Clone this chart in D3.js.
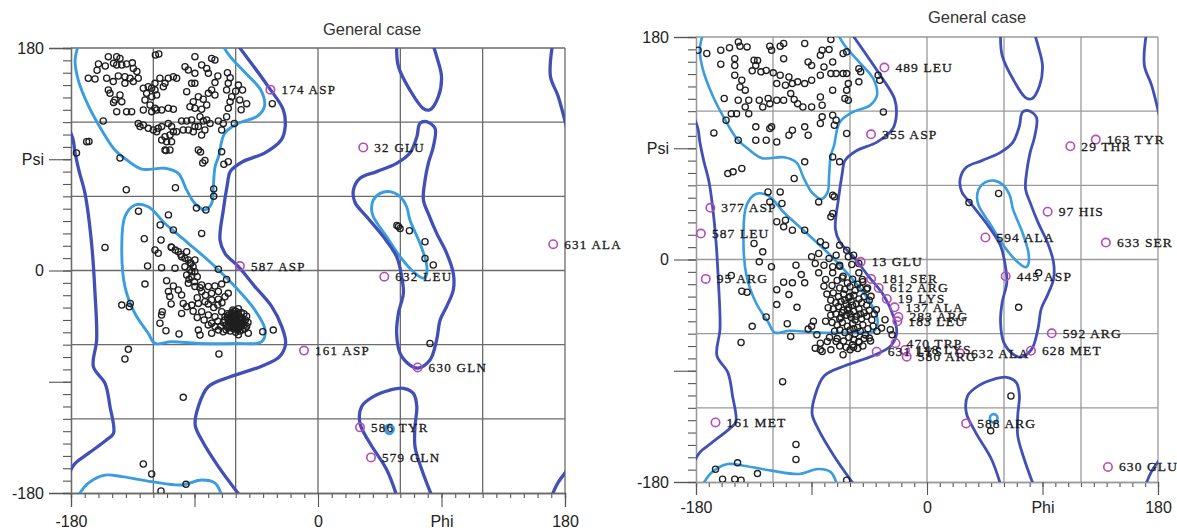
<!DOCTYPE html>
<html>
<head>
<meta charset="utf-8">
<script src="https://cdn.jsdelivr.net/npm/d3@7"></script>
<style>
  body { margin: 0; background: #fff; }
  svg { display: block; }
</style>
</head>
<body>
<svg id="chart" width="1177" height="531"></svg>
<script>
// ---- contour lines (phi, psi), shared by both plots ----
var favBeta = [[-174.7,182],[-177,170],[-174.7,154],[-167,132.5],[-157.7,113.7],[-148,97.5],[-140,90],[-128.5,82],[-111.5,82.7],[-101.8,78.6],[-95.7,65],[-89.7,54.3],[-82.4,49],[-77.5,54.3],[-76.3,67.8],[-75,84],[-72.5,92],[-68,111],[-58.3,119],[-44.4,124.7],[-39,132.8],[-41.7,146],[-52.8,159.7],[-64,173],[-69.4,182]];
var favBetaBottom = [[-174.7,-182],[-167.4,-172],[-155.2,-165.5],[-143,-166.8],[-121.2,-170.8],[-99.4,-173.5],[-84.8,-169.5],[-75,-172],[-70.2,-182]];
var favAlpha = [[-133.4,53],[-140.7,43.6],[-143,19.3],[-140.7,-13],[-133.4,-34.8],[-123.7,-50.8],[-118.8,-59],[-106.7,-57.6],[-87.2,-59],[-60.5,-59],[-41,-57.6],[-38.6,-48],[-46,-32],[-60.5,-13],[-77.5,5.7],[-94.5,22],[-111.5,38],[-123.7,51.6]];
var favLeftHanded = [[39,50],[40.3,57],[45.2,62.4],[52.5,63.8],[59.8,59.7],[64.6,51.6],[67,40.8],[74.3,22],[79,5.8],[79,-3.6],[76.8,-6.3],[69.5,-1],[59.8,11.2],[50,27.4],[40.3,43.5]];
var favGamma = [[49,-128],[50.5,-125.5],[53.5,-125.5],[55,-128.5],[53.5,-131.5],[50.5,-131.5]];

var allowMain = [[-58.3,182],[-36.4,149],[-25.3,130],[-23.9,116.6],[-26.7,105.8],[-39,95],[-55,88],[-64,80],[-66,70],[-69,49],[-71.4,24.7],[-67.8,13.9],[-58,3.1],[-46,-13],[-33.8,-29],[-26.4,-45.4],[-23.6,-59],[-28,-69.7],[-42,-77.8],[-64,-86],[-80,-94],[-87.2,-110],[-89.5,-125],[-84.8,-137],[-72.6,-158.7],[-57,-182]];
var allowLeft = [[-182,116],[-178.5,106],[-177,95],[-174,80],[-169.8,62.4],[-165,22],[-162.5,-18.5],[-161.3,-56],[-163.7,-77.8],[-155.2,-91.3],[-151.6,-110],[-149,-131.7],[-154,-137],[-167.4,-148],[-177,-156],[-182,-165]];
var allowTopRight = [[170.8,182],[169.4,157],[175,141],[182,112]];
var allowBottomRight = [[170.5,-182],[174.7,-172],[182,-161]];
var allowLeftHanded = [[79,120.4],[85.3,115],[84,100],[80.4,86.7],[78,73],[76.8,57],[80.4,46],[86.5,30],[93.8,13.9],[98.6,-2.3],[98.6,-15.8],[93.8,-29],[89,-40],[86.5,-56],[81.6,-72.5],[73,-79],[67,-76.5],[59.8,-67],[57.3,-50.8],[58.6,-34.6],[62.2,-18.5],[61,-5],[57.3,11.2],[47.6,27.4],[35.5,43.5],[27,55],[25.8,65],[30.6,74.6],[42.8,80],[57.3,86.7],[67,95],[72,108],[74.3,119]];
var allowGammaTop = [[57.3,182],[58.6,165],[67,146],[76.8,131],[81.6,130],[87.7,140.6],[90,156.8],[86.5,173],[84,182]];
var allowGammaBottom = [[57.3,-182],[50,-161],[38,-140],[30.6,-123.7],[31.8,-110],[40.3,-102],[52.5,-96.7],[62.2,-95.3],[69.5,-99.4],[72,-110],[70.7,-126],[70.7,-142.5],[75.6,-161],[82.8,-182]];

// ---- left plot residues (phi, psi) ----
var leftBeta = [
  [-152.8,173],[-146.7,173],[-144.3,171.6],[-160,167],[-155,165.4],[-161,162],[-149,167.6],[-146.7,166.2],[-143,166.2],[-139.5,167],[-135.3,168],[-134.6,163.5],[-132,161],
  [-167.4,155.5],[-162.5,154.9],[-154,155.5],[-145.5,157.3],[-140.7,156.8],[-137,155.5],[-131,155.5],[-134.6,152.8],[-140.7,151.4],[-149.2,152.8],[-152.8,146],[-151.6,143.3],[-144.3,142],[-148,137.9],[-143,136.6],[-139.5,128.5],[-135.8,128.5],[-146.7,128.5],[-149,136],
  [-156.5,120.9],[-168.6,104.2],[-176,95],[-144.3,91],
  [-127.3,147.4],[-123.7,148.7],[-121.2,147.4],[-118.8,146],[-124.9,143.3],[-121.2,140.6],[-117.6,142],[-126.1,137.9],[-122.4,133.9],[-118.8,131.2],[-127.3,129.8],[-121.2,128.5],[-117.6,129.8],[-113.9,129.8],[-109.1,131.2],[-105.4,130.4],[-115.2,155.5],[-109.1,155.5],[-105.4,156.8],[-103,155.5],[-111.5,151.4],[-112.7,148.7],[-118.8,151.4],[-118.5,174.3],[-116,175.2],
  [-131,119],[-129.7,116.4],[-127.3,117.7],[-123.7,115],[-120,113.7],[-117.6,112.3],[-116.4,115],[-113.9,116.4],[-109.1,119],[-106.7,116.4],[-105.4,112.3],[-107.9,109.6],[-111.5,108.3],[-113.9,105.6],[-110.3,104.2],[-106.7,104.2],[-111.5,97.5],[-107.9,97.5],[-103,112.3],
  [-99.4,120.9],[-95.7,120.9],[-92.1,121.7],[-89.7,116.4],[-94.5,113.7],[-98.2,113.7],[-90.9,112.3],
  [-96.9,164.9],[-94.5,162.2],[-89.7,159.5],[-84.8,166.2],[-81.1,163.5],[-79.9,159.5],[-77.5,171.6],[-75.1,170.3],[-89.7,173],
  [-87.2,140.6],[-90.9,136.6],[-93.3,132.5],[-89.7,131.2],[-84.8,130.4],[-81.1,133.9],[-83.6,138.5],[-79.9,143.3],[-77.5,146],[-75.1,142],[-92.1,151.4],[-89.7,151.4],[-95.7,144.7],
  [-86,124.4],[-83.6,120.9],[-81.1,121.7],[-78.7,119],[-82.4,113.7],[-87.2,116.4],[-84.8,109.6],[-72.6,120.9],[-69,119],[-70.2,113.7],[-66.6,124.4],[-65.4,131.2],[-64.1,136.6],[-62.9,140.6],[-66.6,146],[-65.4,151.4],[-64,156],[-66,160],[-75.1,152],[-73,157.3],
  [-87.2,97.5],[-82.4,89],[-65.4,88],[-70.2,96],
  [-58,150],[-55,146],[-57,138],[-52,135],[-60,145],[-56,130],[-33.3,135],[-61,119],
  [-166.9,104.4],[-139.7,65.3],[-103.9,67],[-110.8,97],[-85.6,95.8],[-84,87],[-68.6,86],[-76,66],[-76,60],[-88.6,50.5],[-81.7,49],[-130.8,48]
];
var leftAlpha = [
  [-155.2,18.7],[-109,45],[-115,36.8],[-105.4,32.8],[-126.6,25.7],[-114.4,24.7],[-84.8,30],[-118.8,16.6],[-116.4,13.9],[-106.7,18.7],[-101.8,15.2],[-95.7,15.2],[-99.4,11.2],[-94.5,8.5],[-89.7,8.5],[-92.6,5.8],[-124.2,3.6],[-114,2.3],[-104.2,1.8],[-97,3.1],[-93.3,0.4],[-89.7,-1],[-95.7,-3.6],[-92.1,-5],[-72.6,1],
  [-126.1,-11],[-110.3,-8.2],[-105.4,-12.5],[-101.8,-15.8],[-94.5,-10.4],[-89.7,-13],[-84.8,-11.7],[-79.9,-13],[-75.1,-12.5],[-70.2,-11],[-66.6,-7.2],[-72.6,-17],[-77.5,-18.5],[-84.8,-17],[-109,-17],[-99.4,-19.8],[-108,-21],
  [-143,-28],[-136.8,-26.6],[-137.5,-29.3],[-107,-27],[-98.2,-26.6],[-95.7,-29.3],[-92,-28],[-87.2,-26.6],[-82.4,-25.2],[-77.5,-23.9],[-72.6,-23.3],[-67.8,-21.2],[-65.4,-18.5],
  [-113.5,-33.3],[-114,-36],[-99.4,-34.7],[-84.8,-33.3],[-79.9,-36],[-75.1,-37.4],[-70.2,-33.3],[-67.8,-37.4],[-77.5,-42.7],[-75.1,-45.4],[-115.2,-42.7],[-110.8,-48.7],[-101.3,-51.4],[-87.2,-48.2],[-86,-52.2],[-77.5,-50.8],[-72.6,-48.2],[-69,-49.5],[-50.8,-50.8],[-40.3,-49.5],[-32.6,-48.2],
  [-107,19],[-104,16.5],[-100,13],[-97,10],[-93,6],[-91,3],[-92,-1],[-94,-7],[-88,-5],[-90,-9],
  [-86,-14],[-82,-20],[-80,-27],[-76,-30],[-73,-28],[-70,-26],[-88,-22],[-91,-33],[-88,-38],[-83,-40],[-80,-44],[-73,-41],[-71,-45],
  [-60,-40],[-62,-38],[-58,-42],[-64,-42],[-56,-38],[-61,-44],[-59,-36],[-65,-39],[-55,-43],[-63,-46],[-57,-46],[-60,-33],[-66,-35],[-54,-35],[-53,-40],[-67,-44],[-62,-32],[-58,-31],[-64,-49],[-60,-50],[-55,-48],[-52,-45],[-68,-40],[-61,-41],[-59,-39],[-57,-43],[-63,-37],[-65,-45],[-56,-34],[-62,-47],[-58,-47],[-54,-41],[-66,-38],[-60,-45],[-63,-34],[-57,-38],[-61,-36],[-59,-48],[-64,-40],[-56,-45],[-52,-37],[-67,-48],[-69,-42],[-51,-42],[-58,-52],
  [-61,-39],[-59,-41],[-62,-43],[-58,-44],[-60,-37],[-63,-40],[-57,-40],[-55,-39],[-65,-42],[-61,-47],[-59,-43],[-56,-42],[-62,-35],[-64,-37],[-58,-35],[-60,-42],[-54,-44],[-66,-46],[-63,-43],[-57,-49],[-53,-47],[-65,-36],[-61,-33],[-59,-46],[-56,-40],
  [-138.2,-63.8],[-140.7,-71.6],[-72.2,-67.6],[-98.2,-102.6],[-127.3,-156.5],[-121.2,-164.6],[-114.4,-178.4],[-96.2,-173]
];
var leftOther = [[58.6,35.5],[59.8,34],[57.5,36.5],[66.6,32.2],[78,23.3],[78,9.8],[84,4.5],[81.6,-59]];
var leftOutliers = [
  [-34.7,146.3,"174 ASP"],[33,99.6,"32 GLU"],[171.4,21.3,"631 ALA"],[-56.9,3.6,"587 ASP"],[48.3,-5,"632 LEU"],
  [-10.2,-64.8,"161 ASP"],[72.6,-78.4,"630 GLN"],[30.6,-126.9,"586 TYR"],[38.6,-151.2,"579 GLN"]
];

// ---- right plot residues (phi, psi) ----
var rightBeta = [
  [-178.4,169.3],[-171.6,166.6],[-160.7,169.3],[-153.9,171.4],[-147,176],[-145.7,172.5],[-140.2,172],[-149.8,162.5],[-149.8,157],[-160.7,158],[-134.8,161.2],[-133.4,157],[-132,161],[-136.2,152.6],[-129.4,151.8],[-125.3,153],[-122.5,172.5],[-121.1,169.3],[-114.4,172.5],[-111.7,174.7],[-111.7,162.5],[-119.8,151],[-114.4,149],[-107.6,147.7],[-104.9,142.3],[-100.8,143.7],[-95.3,142.3],[-89.9,145],[-95.3,174.7],[-92.6,159.8],[-89.9,157],[-83.1,165.2],[-81.7,169.3],[-76.3,169.8],[-74.9,177.9],[-80.3,155.8],[-73.5,159.8],[-83.1,149],[-74.9,150.4],[-70.8,150.4],[-65.4,150.4],[-62.6,150.4],[-65.4,166.6],[-62.6,168],[-53.1,154.4],[-51.7,151.8],[-53.1,143.7],[-38.1,149],[-36.8,145],[-61.3,142.3],[-62.6,137],[-73.5,137],[-64,130.2],[-61.3,128.8],[-83.1,131.5],[-81.7,124.8],[-89.9,123.4],[-96.7,123.4],[-100.8,126.1],[-103.5,129.4],[-106.2,134.2],[-111.7,128.8],[-117.1,128.8],[-122.5,126.1],[-128,123.4],[-130.7,128.8],[-123.8,130.2],[-138.9,128.8],[-147.1,128.8],[-141.6,123.4],[-148.4,118],[-152.5,118],[-138.9,118],[-156.6,112.7],[-158,130.2],[-145.7,139.6],[-141.6,137],[-149.8,149],[-144.3,145],[-117.1,142.3],[-110.3,141],[-133.4,107.3],[-122.5,106],[-121.1,107.3],[-107.6,100.5],[-104.9,104.6],[-117.1,95.1],[-125.3,96.5],[-133.4,96.5],[-147.1,96.5],[-166.1,102.4],[-95.3,107.3],[-92.6,100.5],[-83.1,110],[-72.2,108.6],[-70.8,112.7],[-73.5,116.7],[-81.7,115.4],[-62.6,101.9],[-73.5,83],[-68.1,79],[-95.3,79],[-103.5,65.5],[-84.4,46.6],[-72.2,50.7],[-155.2,69.5],[-151.1,70.9],[-144.3,73.6],[-34,119.4]
];
var rightAlpha = [
  [-123.9,54.7],[-114.4,54.7],[-122.5,46.6],[-113,45.3],[-73.5,52],[-73.5,37.2],[-74.9,34.5],[-117.1,30.5],[-110.3,31.8],[-111.7,26.4],[-104.9,23.7],[-95.3,23.7],[-134.8,12.9],[-128,6.2],[-130.7,-1.9],[-121.2,-5.9],[-102.1,-4.6],[-89.9,2.2],[-83.1,14.3],[-79,11.6],[-84.4,4.9],[-76.3,0.8],[-70.8,3.5],[-68.1,11.6],[-62.6,7.5],[-61.3,2.2],[-57.2,3.5],[-53.1,-3.2],[-87.1,-3.2],[-80.3,-4.6],[-73.5,-5.9],[-68.1,-4.6],
  [-144.3,-25.7],[-140.2,-26.5],[-152.5,-13],[-117.1,-36.5],[-125.3,-46.5],[-136.2,-54.1],[-144.9,-67.1],[-107.6,-28.4],[-111.7,-18.4],[-104.9,-18.9],[-98,-12.2],[-95.3,-18.9],[-117.1,-24.4],[-101.3,-38.7],[-108.9,-52],[-106.2,-62.2],[-88.5,-50],[-92.6,-56.3],[-89.9,-54.1],[-85.8,-60.9],[-87.1,-71.7],[-83.1,-73.1],[-81.7,-74.4],[-74.9,-73.1],[-83.1,-67.7],[-77.7,-66.3],[-70.8,-66.3],[-65.4,-77.1],[-80.3,-21.7],[-84.4,-10.8],[-79,-16.2],[-73.5,-10.8],[-68.1,-5.4],[-65.4,-13.5],[-58.6,-4.1],[-53.1,-10.8],[-50.4,-16.2],[-46.3,-23],[-43.6,-29.8],[-39.5,-40.6],[-32.7,-48.7],[-35.4,-55.5],[-28.6,-56.8],[-27.2,-60.9],[-44.9,-63.6],[-53.1,-66.3],[-57.2,-70.9],[-59.9,-73.1],
  [-70,-17],[-66,-15],[-62,-19],[-58,-16],[-54,-20],[-50,-18],[-74,-21],[-68,-23],[-64,-24],[-60,-22],[-56,-25],[-52,-23],[-47,-24],
  [-78,-28],[-73,-27],[-69,-30],[-65,-28],[-61,-31],[-57,-29],[-53,-32],[-49,-30],[-45,-33],[-75,-33],[-71,-35],[-67,-34],[-63,-36],[-59,-34],[-55,-36],[-51,-35],[-47,-37],
  [-77,-39],[-73,-40],[-69,-38],[-65,-41],[-61,-39],[-57,-42],[-53,-40],[-49,-43],[-45,-41],[-41,-44],[-75,-45],[-71,-44],[-67,-47],[-63,-45],[-59,-47],[-55,-46],[-51,-48],[-47,-46],[-43,-49],
  [-79,-50],[-74,-51],[-70,-53],[-66,-51],[-62,-54],[-58,-52],[-54,-55],[-50,-53],[-46,-56],[-42,-54],[-72,-58],[-68,-57],[-64,-59],[-60,-57],[-56,-60],[-52,-58],[-48,-61],[-39,-58],
  [-76,-63],[-70,-64],[-65,-66],[-61,-63],[-57,-65],[-53,-67],[-49,-64],[-44,-66],[-68,-70],[-63,-71],[-58,-69],[-54,-72],[-50,-70],
  [-62,-41],[-58,-37],[-64,-33],[-60,-44],[-56,-49],[-66,-43],[-52,-44],[-60,-30],[-68,-48],[-57,-56],
  [-112.5,-98.8],[-102.1,-149.7],[-102.1,-161.8],[-147.6,-164.5],[-164.8,-169.7],[-159.3,-177.8],[-149.8,-177.8],[-144.9,-178.6],[-132.1,-173.2],[-62.6,-178.6]
];
var rightOther = [[71.4,-38.7],[65.4,-110.4],[49.6,-138.6],[55.8,53.4],[32.7,46.1],[87,-10.8]];
var rightOutliers = [
  [-33.2,155.3,"489 LEU"],[-43.6,101.3,"355 ASP"],[131.5,97,"163 TYR"],[111.7,91.6,"29 THR"],[-168.8,41.8,"377 ASP"],
  [-176.2,21,"587 LEU"],[94,38.7,"97 HIS"],[45.5,17.8,"594 ALA"],[139.4,13.7,"633 SER"],[-51.7,-1.9,"13 GLU"],
  [-172.4,-15.7,"95 ARG"],[-43.6,-15.7,"181 SER"],[-37.6,-23,"612 ARG"],[-31.3,-31.9,"19 LYS"],[-25.3,-38.7,"137 ALA"],
  [-22.3,-46.5,"283 ARG"],[-23.1,-50,"183 LEU"],[-24.5,-67.7,"470 TRP"],[-39.2,-74.6,"631 LYS"],[-17.1,-73.2,"148 LYS"],
  [-15.8,-78.6,"580 ARG"],[25.7,-75.9,"632 ALA"],[61.3,-13.5,"445 ASP"],[97.2,-59.7,"592 ARG"],[81,-73.8,"628 MET"],
  [-164.8,-131.8,"161 MET"],[30.5,-132.6,"588 ARG"],[141,-167.8,"630 GLU"]
];

var gridValues = [-120, -60, 0, 60, 120];
var majorTicks = [-180, -90, 0, 90, 180];
var minorTicks = d3.range(-180, 181, 10);
var titleText = "General case";

var contours = [
  {pts: favBeta, closed: false, kind: "fav"},
  {pts: favBetaBottom, closed: false, kind: "fav"},
  {pts: favAlpha, closed: true, kind: "fav"},
  {pts: favLeftHanded, closed: true, kind: "fav"},
  {pts: favGamma, closed: true, kind: "fav"},
  {pts: allowMain, closed: false, kind: "allow"},
  {pts: allowLeft, closed: false, kind: "allow"},
  {pts: allowTopRight, closed: false, kind: "allow"},
  {pts: allowBottomRight, closed: false, kind: "allow"},
  {pts: allowLeftHanded, closed: true, kind: "allow"},
  {pts: allowGammaTop, closed: false, kind: "allow"},
  {pts: allowGammaBottom, closed: false, kind: "allow"}
];

var svg = d3.select("#chart");

var panels = [
  {id: "left", x0: 71, x1: 565, y0: 48, y1: 493, titleX: 372, titleY: 35,
   grid: "#6a6a6a", allowW: 3.3, favW: 2.9, labelSize: 13, labelDx: 11, spacing: 1.3,
   xTickLong: 14, xPad: 9, yTickLong: 22, yPad: 5,
   points: leftBeta.concat(leftAlpha, leftOther), outliers: leftOutliers},
  {id: "right", x0: 696, x1: 1158, y0: 37, y1: 482, titleX: 977, titleY: 23,
   grid: "#9a9a9a", allowW: 2.8, favW: 2.6, labelSize: 13.5, labelDx: 11, spacing: 1.1,
   xTickLong: 13, xPad: 7, yTickLong: 22, yPad: 5,
   points: rightBeta.concat(rightAlpha, rightOther), outliers: rightOutliers}
];

panels.forEach(drawPanel);

function drawPanel(p) {
  var x = d3.scaleLinear().domain([-180, 180]).range([p.x0, p.x1]);
  var y = d3.scaleLinear().domain([-180, 180]).range([p.y1, p.y0]);
  var g = svg.append("g").attr("class", "panel-" + p.id);

  g.append("clipPath").attr("id", "clip-" + p.id)
    .append("rect")
    .attr("x", p.x0).attr("y", p.y0)
    .attr("width", p.x1 - p.x0).attr("height", p.y1 - p.y0);

  // title
  g.append("text")
    .attr("x", p.titleX).attr("y", p.titleY)
    .attr("text-anchor", "middle")
    .attr("font-family", "Liberation Sans, Arial, sans-serif")
    .attr("font-size", 16.5)
    .attr("fill", "#333")
    .text(titleText);

  // grid + frame
  var grid = g.append("g").attr("stroke", p.grid).attr("stroke-width", 1.3);
  grid.selectAll("line.v").data(gridValues.concat([180])).enter().append("line")
    .attr("x1", function(d) { return x(d); }).attr("x2", function(d) { return x(d); })
    .attr("y1", p.y0).attr("y2", p.y1);
  grid.selectAll("line.h").data(gridValues.concat([180])).enter().append("line")
    .attr("y1", function(d) { return y(d); }).attr("y2", function(d) { return y(d); })
    .attr("x1", p.x0).attr("x2", p.x1);

  // axes: minor ticks every 10, long ticks with labels
  var fmtX = function(d) { return d === 90 ? "Phi" : (d === -90 ? "" : d); };
  var fmtY = function(d) { return d === 90 ? "Psi" : (d === -90 ? "" : d); };

  var xMinor = g.append("g").attr("transform", "translate(0," + p.y1 + ")")
    .call(d3.axisBottom(x).tickValues(minorTicks).tickSize(5).tickFormat(""));
  var xMajor = g.append("g").attr("transform", "translate(0," + p.y1 + ")")
    .call(d3.axisBottom(x).tickValues(majorTicks).tickSize(p.xTickLong).tickPadding(p.xPad).tickFormat(fmtX));
  var yMinor = g.append("g").attr("transform", "translate(" + p.x0 + ",0)")
    .call(d3.axisLeft(y).tickValues(minorTicks).tickSize(8).tickFormat(""));
  var yMajor = g.append("g").attr("transform", "translate(" + p.x0 + ",0)")
    .call(d3.axisLeft(y).tickValues(majorTicks).tickSize(p.yTickLong).tickPadding(p.yPad).tickFormat(fmtY));

  [xMinor, xMajor, yMinor, yMajor].forEach(function(a) {
    a.select(".domain").attr("stroke", p.grid).attr("stroke-width", 1.3);
    a.selectAll(".tick line").attr("stroke", "#555").attr("stroke-width", 1.1);
    a.selectAll(".tick text")
      .attr("font-family", "Liberation Sans, Arial, sans-serif")
      .attr("font-size", 16)
      .attr("fill", "#222");
  });

  // contours
  var plot = g.append("g").attr("clip-path", "url(#clip-" + p.id + ")");
  var lineOpen = d3.line().x(function(d) { return x(d[0]); }).y(function(d) { return y(d[1]); })
    .curve(d3.curveCatmullRom.alpha(0.5));
  var lineClosed = d3.line().x(function(d) { return x(d[0]); }).y(function(d) { return y(d[1]); })
    .curve(d3.curveCatmullRomClosed.alpha(0.5));

  plot.selectAll("path.contour").data(contours).enter().append("path")
    .attr("class", "contour")
    .attr("fill", "none")
    .attr("stroke", function(d) { return d.kind === "allow" ? "#4050b6" : "#3a9de0"; })
    .attr("stroke-width", function(d) { return d.kind === "allow" ? p.allowW : p.favW; })
    .attr("stroke-linejoin", "round")
    .attr("d", function(d) { return d.closed ? lineClosed(d.pts) : lineOpen(d.pts); });

  // residues
  plot.append("g").selectAll("circle").data(p.points).enter().append("circle")
    .attr("cx", function(d) { return x(d[0]); })
    .attr("cy", function(d) { return y(d[1]); })
    .attr("r", 3.1)
    .attr("fill", "none")
    .attr("stroke", "#1f1f1f")
    .attr("stroke-width", 1.3);

  // outliers
  var out = g.append("g");
  out.selectAll("circle").data(p.outliers).enter().append("circle")
    .attr("cx", function(d) { return x(d[0]); })
    .attr("cy", function(d) { return y(d[1]); })
    .attr("r", 4.2)
    .attr("fill", "none")
    .attr("stroke", "#b64cb8")
    .attr("stroke-width", 1.6);
  out.selectAll("text").data(p.outliers).enter().append("text")
    .attr("x", function(d) { return x(d[0]) + p.labelDx; })
    .attr("y", function(d) { return y(d[1]) + 4.5; })
    .attr("font-family", "Liberation Serif, Times New Roman, serif")
    .attr("font-size", p.labelSize)
    .attr("letter-spacing", p.spacing)
    .attr("fill", "#1a1a1a")
    .attr("stroke", "#1a1a1a")
    .attr("stroke-width", 0.3)
    .text(function(d) { return d[2]; });
}
</script>
</body>
</html>
